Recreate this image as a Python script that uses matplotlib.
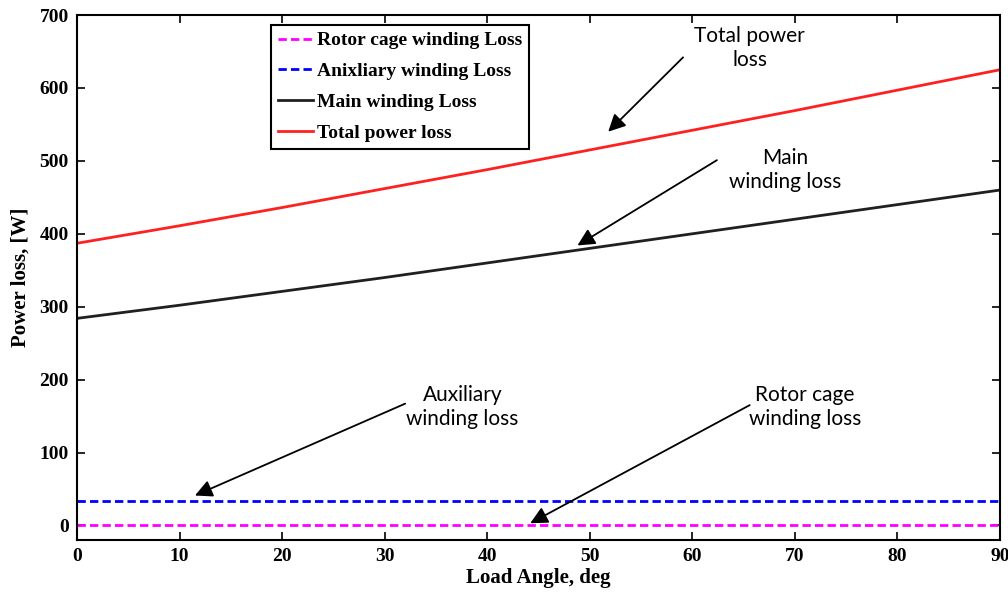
import numpy as np
import matplotlib.pyplot as plt

# Loss components versus load angle
load_angle = [0, 10, 20, 30, 40, 50, 60, 70, 80, 90]
rotor_loss = [0, 0, 0, 0, 0, 0, 0, 0, 0, 0]
aux_loss = [33, 33, 33, 33, 33, 33, 33, 33, 33, 33]
main_loss = [284, 302, 321, 340, 360, 380, 400, 420, 440, 460]
total_loss = [387, 411, 436, 462, 488, 515, 542, 569, 597, 625]

serif = "Liberation Serif"
note_font = "Lato"

fig = plt.figure(figsize=(10.08, 6.03), dpi=100)
ax = fig.add_axes([0.0764, 0.1045, 0.9156, 0.8705])

ax.plot(load_angle, rotor_loss, color="#ff00ff", linestyle=(0, (3, 1.5)), lw=2,
        label="Rotor cage winding Loss")
ax.plot(load_angle, aux_loss, color="#0000ff", linestyle=(0, (3, 1.5)), lw=2,
        label="Anixliary winding Loss")
ax.plot(load_angle, main_loss, color="#202020", lw=2, label="Main winding Loss")
ax.plot(load_angle, total_loss, color="#ff2020", lw=2, label="Total power loss")

ax.set_xlim(0, 90)
ax.set_ylim(-20, 700)
ax.set_xticks(np.arange(0, 91, 10))
ax.set_yticks(np.arange(0, 701, 100))
ax.tick_params(direction="in", top=True, right=True, length=6, width=1.2,
               labelsize=14, pad=6)
for lab in ax.get_xticklabels() + ax.get_yticklabels():
    lab.set_fontfamily(serif)
    lab.set_fontweight("bold")
for sp in ax.spines.values():
    sp.set_linewidth(1.5)

ax.set_xlabel("Load Angle, deg", fontsize=15, fontfamily=serif, fontweight="bold",
              labelpad=2)
ax.set_ylabel("Power loss, [W]", fontsize=15, fontfamily=serif, fontweight="bold",
              labelpad=6)

leg = ax.legend(loc="upper left", bbox_to_anchor=(0.21, 0.981), borderaxespad=0,
                fancybox=False, edgecolor="black", framealpha=1, handlelength=1.8,
                handletextpad=0.2, borderpad=0.35, labelspacing=0.68,
                prop={"family": serif, "weight": "bold", "size": 14})
leg.get_frame().set_linewidth(1.5)

# Callouts
notes = [
    ("Total power\nloss", (65.6, 655), (59.1, 642), (51.8, 540)),
    ("Main\nwinding loss", (69.1, 487), (62.4, 501), (48.8, 384)),
    ("Auxiliary\nwinding loss", (37.6, 163), (32.0, 167), (11.5, 41)),
    ("Rotor cage\nwinding loss", (71.0, 163), (65.6, 165), (44.2, 3)),
]
for text, tpos, tail, tip in notes:
    ax.text(tpos[0], tpos[1], text, ha="center", va="center", fontsize=15,
            fontfamily=note_font, linespacing=1.25)
    ax.annotate("", xy=tip, xytext=tail,
                arrowprops=dict(arrowstyle="-|>", color="black", lw=1.3,
                                mutation_scale=26, shrinkA=0, shrinkB=0))

fig.savefig("out.png", dpi=100)
